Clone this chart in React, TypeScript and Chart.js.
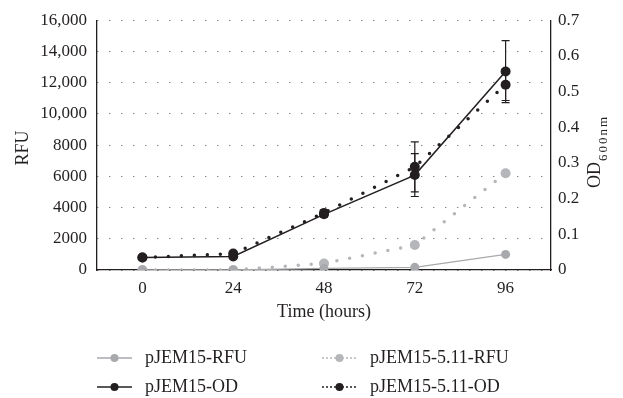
import React, { useEffect, useRef } from 'react';
import { Chart, registerables } from 'chart.js';

Chart.register(...registerables);

// ---- data ----
const categories = ['0', '24', '48', '72', '96'];
const seriesNames = ['pJEM15-OD', 'pJEM15-5.11-OD', 'pJEM15-RFU', 'pJEM15-5.11-RFU'];
const odPlain = [0.035, 0.038, 0.156, 0.266, 0.556];
const od511 = [0.035, 0.046, 0.16, 0.289, 0.519];
const odPlainErr = [0, 0, 0.008, 0.06, 0.087];
const od511Err = [0, 0, 0.008, 0.07, 0.044];
const rfuPlain = [0, 0, 100, 170, 1000];
const rfu511 = [0, 0, 420, 1600, 6200];
const rfuTickLabels = ['0', '2000', '4000', '6000', '8000', '10,000', '12,000', '14,000', '16,000'];
const odTickLabels = ['0', '0.1', '0.2', '0.3', '0.4', '0.5', '0.6', '0.7'];
const xTitle = 'Time (hours)';
const leftTitle = 'RFU';
const rightTitleMain = 'OD';
const rightTitleSub = '600nm';

const INK = '#231f20';
const GRAY = '#a7a9ac';
const LGRAY = '#b5b6b9';
const FONT = "'Liberation Serif', 'Times New Roman', serif";

export default function App() {
  const ref = useRef<HTMLCanvasElement>(null);

  useEffect(() => {
    document.body.style.margin = '0';
    const canvas = ref.current!;

    const errorBars = {
      id: 'errorBars',
      afterDatasetsDraw(chart: any) {
        const c = chart.ctx;
        chart.data.datasets.forEach((ds: any, i: number) => {
          const err = ds.errors;
          if (!err) return;
          const meta = chart.getDatasetMeta(i);
          const sc = chart.scales[ds.yAxisID];
          c.save();
          c.strokeStyle = INK;
          c.lineWidth = 1.2;
          meta.data.forEach((pt: any, j: number) => {
            const e = err[j];
            if (!e) return;
            const v = ds.data[j];
            const t = sc.getPixelForValue(v + e);
            const b = sc.getPixelForValue(v - e);
            c.beginPath();
            c.moveTo(pt.x, t);
            c.lineTo(pt.x, b);
            c.moveTo(pt.x - 4, t);
            c.lineTo(pt.x + 4, t);
            c.moveTo(pt.x - 4, b);
            c.lineTo(pt.x + 4, b);
            c.stroke();
          });
          c.restore();
        });
      },
    };

    const decorations = {
      id: 'decorations',
      afterDraw(chart: any) {
        const c = chart.ctx;
        const area = chart.chartArea;
        c.save();
        c.fillStyle = INK;
        // x title
        c.font = `18px ${FONT}`;
        c.textAlign = 'center';
        c.textBaseline = 'middle';
        c.fillText(xTitle, (area.left + area.right) / 2, 312);
        // left title
        c.save();
        c.translate(28, 148);
        c.rotate(-Math.PI / 2);
        c.textBaseline = 'alphabetic';
        c.textAlign = 'center';
        c.fillText(leftTitle, 0, 0);
        c.restore();
        // right title
        c.save();
        c.translate(600, 188);
        c.rotate(-Math.PI / 2);
        c.textAlign = 'left';
        c.textBaseline = 'alphabetic';
        c.font = `18px ${FONT}`;
        c.fillText(rightTitleMain, 0, 0);
        const w = c.measureText(rightTitleMain).width;
        c.font = `13px ${FONT}`;
        (c as any).letterSpacing = '2px';
        c.fillText(rightTitleSub, w + 1, 7);
        (c as any).letterSpacing = '0px';
        c.restore();

        // legend
        const entries = [
          { label: seriesNames[2], x: 97, y: 358, color: GRAY, dotted: false },
          { label: seriesNames[3], x: 322, y: 358, color: LGRAY, dotted: true },
          { label: seriesNames[0], x: 97, y: 387, color: INK, dotted: false },
          { label: seriesNames[1], x: 322, y: 387, color: INK, dotted: true },
        ];
        entries.forEach((e) => {
          c.save();
          c.strokeStyle = e.color;
          c.fillStyle = e.color;
          c.beginPath();
          if (e.dotted) {
            c.lineWidth = 2;
            c.lineCap = 'round';
            c.setLineDash([0, 4]);
            c.moveTo(e.x + 1, e.y);
            c.lineTo(e.x + 34, e.y);
          } else {
            c.lineWidth = 1.3;
            c.moveTo(e.x, e.y);
            c.lineTo(e.x + 35, e.y);
          }
          c.stroke();
          c.setLineDash([]);
          c.beginPath();
          c.arc(e.x + 17.5, e.y, 4, 0, Math.PI * 2);
          c.fill();
          c.fillStyle = INK;
          c.font = `18px ${FONT}`;
          c.textAlign = 'left';
          c.textBaseline = 'middle';
          c.fillText(e.label, e.x + 48, e.y);
          c.restore();
        });
        c.restore();
      },
    };

    const chart = new Chart(canvas, {
      type: 'line',
      data: {
        labels: categories,
        datasets: [
          {
            label: seriesNames[0],
            data: odPlain,
            yAxisID: 'y1',
            borderColor: INK,
            backgroundColor: INK,
            borderWidth: 1.5,
            pointRadius: 5,
            pointBorderWidth: 0,
            pointBackgroundColor: INK,
            errors: odPlainErr,
          } as any,
          {
            label: seriesNames[1],
            data: od511,
            yAxisID: 'y1',
            borderColor: INK,
            backgroundColor: INK,
            borderWidth: 3.5,
            borderCapStyle: 'round',
            borderDash: [0, 13],
            pointRadius: 5,
            pointBorderWidth: 0,
            pointBackgroundColor: INK,
            errors: od511Err,
          } as any,
          {
            label: seriesNames[2],
            data: rfuPlain,
            yAxisID: 'y',
            borderColor: GRAY,
            backgroundColor: GRAY,
            borderWidth: 1.3,
            pointRadius: 4.5,
            pointBorderWidth: 0,
            pointBackgroundColor: GRAY,
          },
          {
            label: seriesNames[3],
            data: rfu511,
            yAxisID: 'y',
            borderColor: LGRAY,
            backgroundColor: LGRAY,
            borderWidth: 3.5,
            borderCapStyle: 'round',
            borderDash: [0, 13],
            pointRadius: 5,
            pointBorderWidth: 0,
            pointBackgroundColor: LGRAY,
          } as any,
        ],
      },
      options: {
        responsive: false,
        maintainAspectRatio: false,
        devicePixelRatio: 1,
        animation: false,
        layout: { padding: { top: 16, left: 0, right: 0, bottom: 0 } },
        plugins: { legend: { display: false }, tooltip: { enabled: false }, title: { display: false } },
        scales: {
          x: {
            type: 'category',
            offset: true,
            grid: { display: false, drawTicks: false },
            border: { display: true, color: INK, width: 1.3 },
            ticks: { color: INK, font: { family: FONT, size: 17 }, padding: 8, maxRotation: 0 },
            afterFit: (s: any) => {
              s.height = 128;
            },
          },
          y: {
            type: 'linear',
            position: 'left',
            min: 0,
            max: 16000,
            grid: { display: true, drawTicks: false, color: '#555', lineWidth: 1 },
            border: { display: true, color: INK, width: 1.3, dash: [1, 11] },
            ticks: {
              stepSize: 2000,
              color: INK,
              font: { family: FONT, size: 17 },
              padding: 10,
              callback: (_v: any, i: number) => rfuTickLabels[i],
            },
            afterFit: (s: any) => {
              s.width = 97;
            },
          },
          y1: {
            type: 'linear',
            position: 'right',
            min: 0,
            max: 0.7,
            grid: { display: false, drawTicks: false },
            border: { display: true, color: INK, width: 1.3 },
            ticks: {
              stepSize: 0.1,
              color: INK,
              font: { family: FONT, size: 17 },
              padding: 7,
              callback: (_v: any, i: number) => odTickLabels[i],
            },
            afterFit: (s: any) => {
              s.width = 72;
            },
          },
        },
      },
      plugins: [errorBars, decorations],
    } as any);

    return () => chart.destroy();
  }, []);

  return (
    <div style={{ width: 623, height: 398 }}>
      <canvas ref={ref} width={623} height={398} style={{ display: 'block' }} />
    </div>
  );
}
